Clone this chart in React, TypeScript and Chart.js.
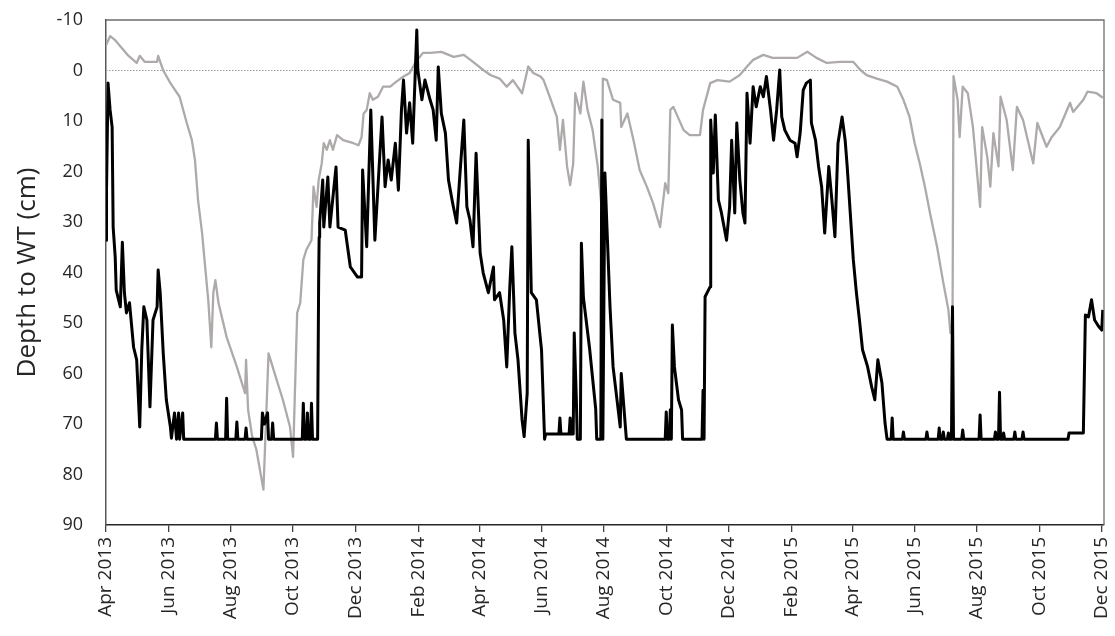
import React, { useEffect, useRef } from "react";
import { Chart, registerables } from "chart.js";

Chart.register(...registerables);

// x values are days since 1 Apr 2013
const tickDays = [0, 61, 122, 183, 244, 306, 365, 426, 487, 548, 609, 671, 730, 791, 852, 913, 974];
const tickLabels = [
  "Apr 2013", "Jun 2013", "Aug 2013", "Oct 2013", "Dec 2013",
  "Feb 2014", "Apr 2014", "Jun 2014", "Aug 2014", "Oct 2014", "Dec 2014",
  "Feb 2015", "Apr 2015", "Jun 2015", "Aug 2015", "Oct 2015", "Dec 2015",
];
const xMin = 0;
const xMax = 976.2;
const yMin = -10;
const yMax = 90;
const yStep = 10;
const yTitle = "Depth to WT (cm)";

const grayDays = [
  0, 4, 9, 21, 30, 33, 38, 50, 51, 56, 63, 72, 79, 84, 87, 90, 94, 97, 100, 103, 105, 107, 110, 118, 128, 136, 137, 139,
  143, 147, 154, 159, 167, 173, 180, 183, 187, 190, 193, 196, 201, 203, 206, 208, 211, 213, 216, 219, 222, 226, 232, 242,
  247, 250, 252, 255, 258, 261, 266, 271, 278, 284, 291, 297, 304, 307, 310, 317, 328, 340, 350, 359, 369, 376, 385, 392,
  398, 407, 413, 418, 425, 428, 434, 441, 444, 447, 451, 454, 457, 459, 464, 467, 471, 476, 481, 485, 486, 490, 496, 503,
  504, 510, 516, 522, 529, 535, 542, 547, 550, 552, 555, 565, 571, 581, 584, 591, 598, 610, 620, 627, 633, 643, 652, 676,
  686, 695, 705, 718, 731, 738, 744, 754, 764, 774, 780, 786, 791, 796, 801, 806, 813, 819, 824, 826, 828, 829, 833, 835,
  838, 843, 848, 855, 857, 862, 865, 868, 873, 875, 881, 887, 891, 897, 907, 911, 920, 925, 933, 943, 946, 956, 960, 969,
  975,
];
const grayDepth = [
  -5, -6.8, -6, -3.1, -1.5, -2.9, -1.7, -1.7, -2.9, 0, 2.5, 5.2, 10.4, 13.8, 17.7, 25.6, 32.2, 38.9, 45.4, 54.8, 44, 41.5,
  46, 52.8, 58.7, 63.9, 57.3, 67.2, 72.5, 75, 83, 56, 61.3, 65.2, 70.6, 76.5, 48, 46, 37.5, 35.5, 33.6, 23, 27, 21.7, 18.4,
  14.4, 15.7, 13.8, 15.7, 12.8, 13.8, 14.4, 14.8, 13.2, 8.5, 7.8, 4.5, 5.8, 5.2, 3.2, 3.2, 2.2, 1.2, 0.5, -2.1, -2.7, -3.5,
  -3.5, -3.7, -2.7, -3.1, -1.7, -0.1, 0.9, 1.6, 3.2, 1.9, 4.5, -0.8, 0.5, 1.2, 1.9, 5.2, 9.2, 15.7, 9.8, 19, 22.7, 18.4,
  4.5, 8.5, 2.2, 7.8, 11.8, 19, 27.6, 1.6, 1.9, 5.8, 6.4, 11.2, 8.5, 13.8, 19.7, 23, 26.2, 31, 22.3, 24.3, 7.8, 7.2, 11.8,
  12.8, 12.8, 7.8, 2.5, 1.9, 2.2, 0.9, -0.8, -2.1, -3.1, -2.5, -2.5, -3.7, -2.5, -1.5, -1.7, -1.7, -0.1, 0.9, 1.6, 2.2,
  3.2, 5.8, 9.2, 14.4, 18.4, 23, 28.2, 35, 42, 47.4, 52, 52, 1.1, 5.8, 13.2, 3.2, 4.5, 11.2, 27, 11.2, 17.1, 23, 12.4, 19,
  5.2, 9.8, 19.7, 7.2, 9.8, 18.4, 10.4, 15.1, 13.2, 11.2, 6.4, 8.2, 5.8, 4.2, 4.5, 5.4,
];

const blackDays = [
  0, 0.5, 2, 4, 6, 7, 9, 10, 14, 16, 18, 20, 23, 27, 30, 33, 35, 37, 40, 43, 46, 50, 51, 53, 56, 59, 63, 64, 67, 69, 71,
  72, 75, 76, 107, 108, 109, 117, 118, 119, 127, 128, 129, 136, 137, 138, 152, 153, 155, 158, 159, 162, 163, 164, 192,
  193, 194, 196, 197, 198, 200, 201, 202, 207, 208, 208.5, 209, 212, 213, 217, 219, 225, 227, 234, 239, 246, 250, 251,
  255, 259, 263, 270, 273, 276, 279, 283, 286, 289, 291, 294, 297, 300, 304, 305, 309, 312, 317, 320, 323, 325, 328, 332,
  335, 339, 343, 346, 350, 353, 356, 359, 362, 366, 369, 374, 379, 380, 385, 389, 392, 395, 397, 400, 403, 407, 409, 412,
  413, 416, 421, 425, 426, 429, 430, 443, 444, 445, 453, 454, 455, 457, 458, 460, 461, 464, 465, 467, 473, 479, 480, 484,
  485, 486, 488, 490, 493, 496, 503, 504, 509, 547, 548, 549, 551, 552, 553, 554, 556, 560, 563, 564, 583, 584, 585, 586,
  591, 591.5, 594, 596, 599, 602, 607, 610, 612, 615, 617, 620, 623, 625, 627, 630, 633, 636, 640, 643, 646, 650, 653, 656,
  659, 661, 664, 669, 674, 676, 679, 682, 685, 689, 690, 694, 697, 700, 703, 707, 710, 713, 716, 720, 723, 725, 728, 731,
  734, 737, 740, 745, 749, 752, 755, 759, 762, 764, 768, 769, 770, 779, 780, 781, 802, 803, 804, 814, 815, 816, 818, 819,
  820, 823, 824, 825, 827, 828, 829, 837, 838, 839, 854, 855, 856, 869, 870, 871, 873, 874, 875, 877, 878, 879, 888, 889,
  890, 896, 897, 898, 941, 942, 956, 958, 961, 964, 967, 971, 974, 975,
];
const blackDepth = [
  33.6, 23.7, 2.5, 7.8, 11.2, 31, 36.9, 43.5, 46.8, 34, 44, 48, 46, 54.8, 57.3, 70.6, 55.3, 46.8, 49.4, 66.6, 49.4, 46.8,
  39.5, 44, 56, 65.2, 70.6, 72.8, 67.8, 73, 67.8, 73, 67.8, 73, 73, 69.8, 73, 73, 64.9, 73, 73, 69.6, 73, 73, 70.8, 73, 73,
  67.8, 70, 67.8, 73, 73, 69.8, 73, 73, 65.9, 73, 73, 67.8, 73, 73, 65.9, 73, 73, 41.5, 33, 30.2, 21.7, 31, 21.1, 31, 19.1,
  31, 31.6, 38.9, 40.9, 40.9, 19.7, 34.9, 7.8, 33.6, 9.2, 23, 17.7, 21.7, 14.4, 23.7, 7.8, 1.9, 12.4, 6.4, 14.4, -8, -0.1,
  5.8, 1.9, 5.8, 7.8, 13.8, -0.7, 8.5, 12.4, 21.7, 26.2, 30.2, 21.1, 9.8, 27, 29.6, 34.9, 16.4, 36.2, 40.1, 44, 38.9, 45.4,
  44, 49.4, 58.7, 42.8, 34.9, 52, 57.3, 69.2, 72.5, 63.9, 13.8, 44, 45.4, 53.4, 55.3, 73, 72, 72, 68.8, 72, 72, 68.8, 72,
  72, 52, 64.6, 73, 73, 34.2, 45, 55, 67, 73, 73, 9.8, 73, 20.3, 31, 46.8, 58.7, 70.6, 60, 73, 73, 67.6, 73, 73, 67.2, 73,
  50.4, 58.7, 65.2, 67.2, 73, 73, 63.3, 73, 44.8, 42.8, 9.8, 20.3, 8.8, 25.6, 28.2, 33.6, 27, 13.8, 28.2, 10.4, 21.7,
  28.2, 30.2, 4.5, 14.4, 3.2, 7.2, 3.2, 5.2, 1.2, 7.8, 13.8, 7.8, -0.1, 9.2, 11.8, 13.8, 14.4, 17.1, 12.4, 3.9, 2.5, 1.9,
  10.4, 13.8, 19, 23, 32.2, 19, 25.6, 32.9, 14.4, 9.2, 13.8, 19, 28.2, 37.5, 44, 49.4, 55.3, 58.7, 62.7, 65.2, 57.3, 61.9,
  69.8, 73, 73, 68.8, 73, 73, 71.6, 73, 73, 71.6, 73, 73, 70.8, 73, 73, 71.6, 73, 73, 71.8, 73, 73, 46.8, 73, 73, 71.2,
  73, 73, 68.2, 73, 73, 71.6, 73, 73, 63.7, 73, 73, 71.8, 73, 73, 71.6, 73, 73, 71.6, 73, 73, 71.8, 71.8, 48.4, 48.8,
  45.4, 49.4, 50.7, 51.4, 47.4,
];

const zeroDays = [xMin, xMax];
const zeroDepth = [0, 0];

const toPoints = (xs: number[], ys: number[]) => xs.map((x, i) => ({ x, y: ys[i] }));

const frameBox = {
  id: "frameBox",
  afterDatasetsDraw(chart: any) {
    const { ctx, chartArea } = chart;
    ctx.save();
    ctx.strokeStyle = "#6e6e6e";
    ctx.lineWidth = 1.3;
    ctx.beginPath();
    ctx.moveTo(chartArea.left, chartArea.top);
    ctx.lineTo(chartArea.right, chartArea.top);
    ctx.lineTo(chartArea.right, chartArea.bottom);
    ctx.stroke();
    ctx.restore();
  },
};

export default function App() {
  const canvasRef = useRef<HTMLCanvasElement | null>(null);

  useEffect(() => {
    if (!canvasRef.current) return;
    const chart = new Chart(canvasRef.current, {
      type: "line",
      data: {
        datasets: [
          {
            label: "Black",
            data: toPoints(blackDays, blackDepth),
            borderColor: "#000000",
            borderWidth: 3,
            pointRadius: 0,
            tension: 0,
            borderJoinStyle: "round",
          },
          {
            label: "Gray",
            data: toPoints(grayDays, grayDepth),
            borderColor: "#aeaaaa",
            borderWidth: 2.3,
            pointRadius: 0,
            tension: 0,
            borderJoinStyle: "round",
          },
          {
            label: "Zero",
            data: toPoints(zeroDays, zeroDepth),
            borderColor: "#9a9a9a",
            borderWidth: 1,
            borderDash: [1.5, 1.5],
            pointRadius: 0,
          },
        ],
      },
      options: {
        animation: false,
        responsive: true,
        maintainAspectRatio: false,
        layout: { padding: { top: 20, right: 11, bottom: 0, left: 0 } },
        plugins: { legend: { display: false }, tooltip: { enabled: false } },
        scales: {
          x: {
            type: "linear",
            min: xMin,
            max: xMax,
            afterBuildTicks: (scale: any) => {
              scale.ticks = tickDays.map((v) => ({ value: v }));
            },
            afterFit: (scale: any) => {
              scale.height = 111;
              scale.paddingLeft = 0;
              scale.paddingRight = 0;
            },
            ticks: {
              autoSkip: false,
              minRotation: 90,
              maxRotation: 90,
              padding: 5,
              color: "#262626",
              font: { family: "'Open Sans'", size: 19 },
              callback: (value: any) => {
                const i = tickDays.indexOf(Number(value));
                return i >= 0 ? tickLabels[i] : "";
              },
            },
            grid: {
              drawOnChartArea: false,
              drawTicks: true,
              tickLength: 7,
              color: "#404040",
              lineWidth: 1.3,
            },
            border: { display: true, color: "#262626", width: 1.5 },
          },
          y: {
            type: "linear",
            reverse: true,
            min: yMin,
            max: yMax,
            afterFit: (scale: any) => {
              scale.width = 106;
              scale.paddingTop = 0;
              scale.paddingBottom = 0;
            },
            ticks: {
              stepSize: yStep,
              padding: 23,
              color: "#262626",
              font: { family: "'Open Sans'", size: 18 },
            },
            grid: { display: false, drawTicks: false },
            border: { display: true, color: "#595959", width: 1.5 },
            title: {
              display: true,
              text: yTitle,
              color: "#262626",
              font: { family: "'Open Sans'", size: 26 },
              padding: { top: 12, bottom: 0 },
            },
          },
        },
      },
      plugins: [frameBox],
    });
    return () => chart.destroy();
  }, []);

  return (
    <div style={{ position: "absolute", left: 0, top: 0, width: 1115, height: 636, background: "#fff" }}>
      <canvas ref={canvasRef} />
    </div>
  );
}
